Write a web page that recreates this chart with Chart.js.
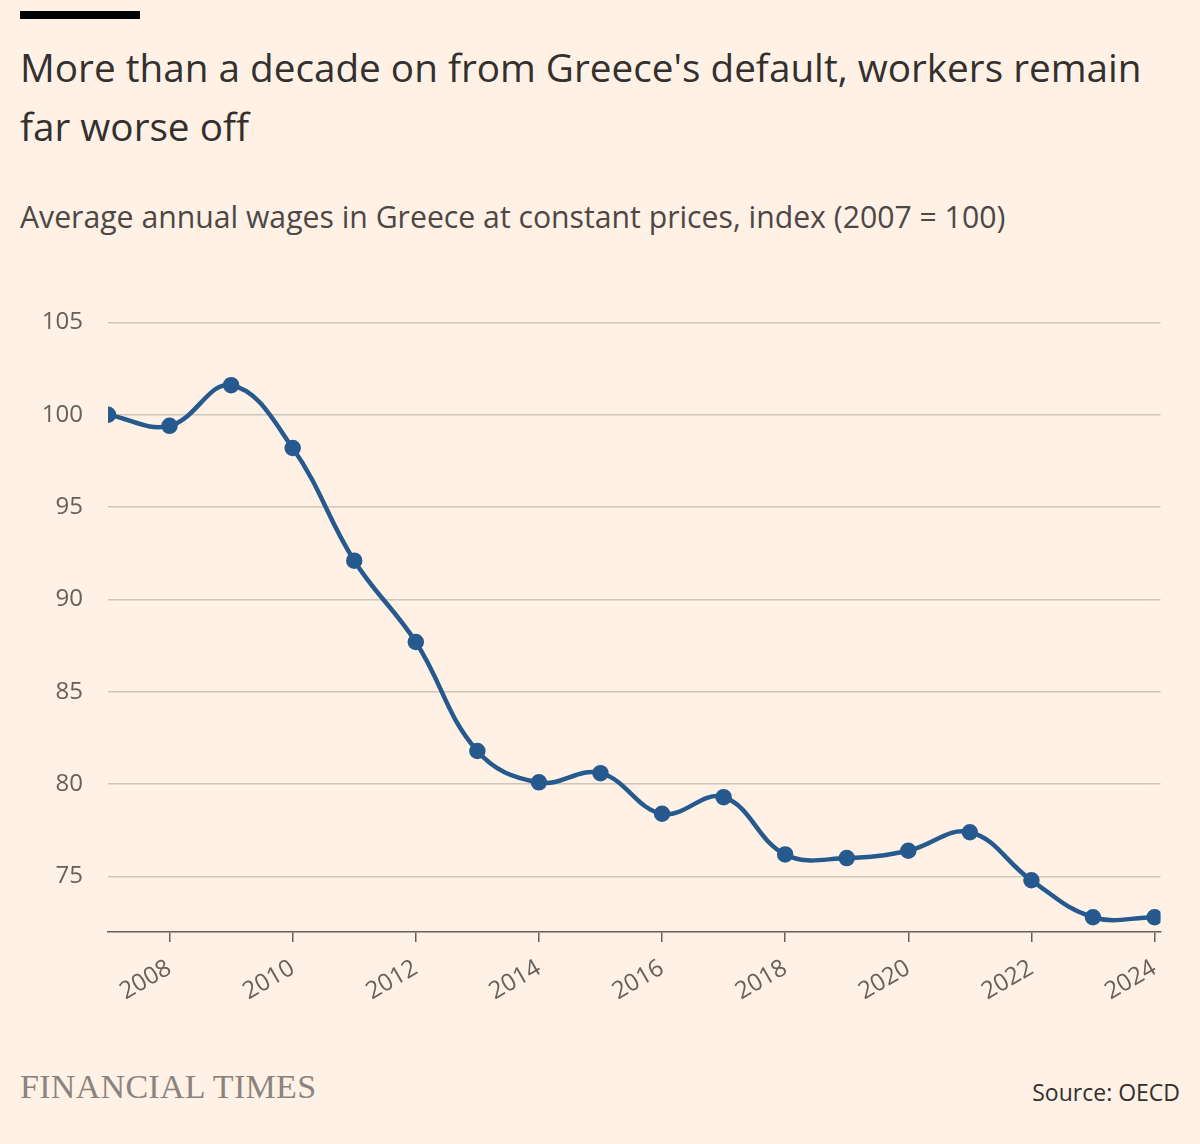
<!DOCTYPE html>
<html><head><meta charset="utf-8">
<script src="https://cdn.jsdelivr.net/npm/chart.js@4"></script>
<style>
body{margin:0;background:#FFF1E5;width:1200px;height:1144px;position:relative;font-family:"Open Sans",sans-serif;color:#33302E;overflow:hidden}
#bar{position:absolute;left:20px;top:11px;width:120px;height:8px;background:#000}
#title{position:absolute;left:20px;top:38px;width:1170px;font-size:38.7px;line-height:59px;color:#33302E}
#sub{position:absolute;left:20px;top:196px;font-size:30.2px;color:#4d4845;white-space:nowrap}
#wrap{position:absolute;left:20px;top:283px;width:1161px;height:729px}
#ft{position:absolute;left:20px;top:1068px;font-family:"Liberation Serif",serif;font-size:34px;color:#8a837e;letter-spacing:0.3px}
#src{position:absolute;right:20px;top:1076px;font-size:23px;color:#33302E}
</style></head><body>
<div id="bar"></div>
<div id="title">More than a decade on from Greece's default, workers remain far worse off</div>
<div id="sub">Average annual wages in Greece at constant prices, index (2007 = 100)</div>
<div id="wrap"><canvas id="c"></canvas></div>
<div id="ft">FINANCIAL TIMES</div>
<div id="src">Source: OECD</div>
<script>
const years=[2007,2008,2009,2010,2011,2012,2013,2014,2015,2016,2017,2018,2019,2020,2021,2022,2023,2024];
const wages=[100,99.4,101.6,98.2,92.1,87.7,81.8,80.1,80.6,78.4,79.3,76.2,76.0,76.4,77.4,74.8,72.8,72.8];
const yTicks=[75,80,85,90,95,100,105];
new Chart(document.getElementById('c'),{
type:'line',
data:{datasets:[{data:years.map((y,i)=>({x:y,y:wages[i]})),borderColor:'#265A8F',backgroundColor:'#265A8F',borderWidth:4.5,tension:0.4,pointRadius:6,pointHoverRadius:6}]},
options:{responsive:true,maintainAspectRatio:false,animation:false,
layout:{padding:{top:10,right:0}},
plugins:{legend:{display:false},tooltip:{enabled:false}},
scales:{
x:{type:'linear',min:2007,max:2024.097,
afterFit(s){s.height=80},
afterBuildTicks(s){s.ticks=years.filter(y=>y%2===0).map(v=>({value:v}))},
grid:{display:true,drawOnChartArea:false,drawTicks:true,tickLength:10,color:'#66605C',lineWidth:1.5},
border:{display:true,color:'#66605C',width:1.5},
ticks:{minRotation:30,maxRotation:30,color:'#66605C',font:{family:'Open Sans',size:24},callback:v=>String(v),padding:12}},
y:{min:72,max:105,
afterFit(s){s.width=88},
afterBuildTicks(s){s.ticks=yTicks.map(v=>({value:v}))},
grid:{color:'#CEC6B9',lineWidth:1.5,drawTicks:false},
border:{display:false},
ticks:{color:'#66605C',font:{family:'Open Sans',size:24},padding:25}}
}}});
</script></body></html>
